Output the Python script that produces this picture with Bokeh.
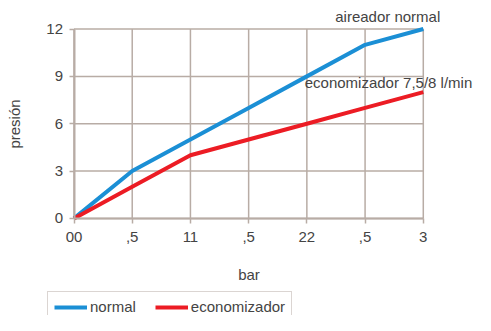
from bokeh.plotting import figure
from bokeh.models import FixedTicker, Legend, LegendItem, Label, Range1d
from bokeh.embed import file_html
from bokeh.resources import INLINE

x = [0, 0.5, 1, 1.5, 2, 2.5, 3]
normal = [0, 3, 5, 7, 9, 11, 12]
economizador = [0, 2, 4, 5, 6, 7, 8]
x_ticks = [0, 0.5, 1, 1.5, 2, 2.5, 3]
x_tick_labels = ["00", ",5", "11", ",5", "22", ",5", "3"]
y_ticks = [0, 3, 6, 9, 12]

FONT = "Liberation Sans"
FS = "15px"
TXT = "#444444"
GRID = "#b8aca5"

W, H = 475, 315
X0_PX, XU_PX = 73.5, 116.43    # x=0 position and px per unit
Y0_PX, YU_PX = 217.9, 15.78    # y=0 position (from top) and px per unit

p = figure(width=W, height=H, output_backend="svg", toolbar_location=None,
           x_range=Range1d(-X0_PX / XU_PX, (W - X0_PX) / XU_PX),
           y_range=Range1d(-(H - Y0_PX) / YU_PX, Y0_PX / YU_PX),
           min_border=0, min_border_left=0, min_border_right=0,
           min_border_top=0, min_border_bottom=0)
p.outline_line_color = None
p.background_fill_color = "white"
p.xgrid.visible = False
p.ygrid.visible = False

# grid lines limited to the data area
p.segment(x0=x_ticks, x1=x_ticks, y0=[0] * len(x_ticks), y1=[12] * len(x_ticks),
          line_color=GRID, line_width=1.5)
p.segment(x0=[0] * len(y_ticks), x1=[3] * len(y_ticks), y0=y_ticks, y1=y_ticks,
          line_color=GRID, line_width=1.5)

p.xaxis.ticker = FixedTicker(ticks=x_ticks)
p.xaxis.major_label_overrides = {t: l for t, l in zip(x_ticks, x_tick_labels)}
p.yaxis.ticker = FixedTicker(ticks=y_ticks)
p.xaxis.bounds = (0, 3)
p.yaxis.bounds = (0, 12)
p.xaxis.fixed_location = 0
p.yaxis.fixed_location = 0
for ax in (p.xaxis, p.yaxis):
    ax.axis_line_color = GRID
    ax.axis_line_width = 2
    ax.major_tick_line_color = GRID
    ax.major_tick_line_width = 1.5
    ax.major_tick_out = 5
    ax.major_tick_in = 0
    ax.minor_tick_line_color = None
    ax.major_label_text_font = FONT
    ax.major_label_text_font_size = FS
    ax.major_label_text_color = TXT
    ax.axis_label_text_font = FONT
    ax.axis_label_text_font_size = FS
    ax.axis_label_text_color = TXT
    ax.axis_label_text_font_style = "normal"
p.xaxis.axis_label = "bar"
p.yaxis.axis_label = "presión"
p.xaxis.axis_label_standoff = 20
p.yaxis.axis_label_standoff = 21
p.xaxis.major_label_standoff = 9
p.yaxis.major_label_standoff = 6

r1 = p.line(x, normal, line_color="#1b8fd5", line_width=4)
r2 = p.line(x, economizador, line_color="#ec1c24", line_width=4)

p.add_layout(Label(x=3, y=12, x_offset=17, y_offset=4, text="aireador normal",
                   text_align="right", text_baseline="bottom", text_font=FONT,
                   text_font_size=FS, text_color=TXT))
p.add_layout(Label(x=3, y=8, x_offset=49, y_offset=1, text="economizador 7,5/8 l/min",
                   text_align="right", text_baseline="bottom", text_font=FONT,
                   text_font_size=FS, text_color=TXT))

legend = Legend(items=[LegendItem(label="normal", renderers=[r1]),
                       LegendItem(label="economizador", renderers=[r2])],
                orientation="horizontal", location=(47, -7),
                label_text_font=FONT, label_text_font_size=FS, label_text_color=TXT,
                border_line_color=GRID, border_line_width=1.5,
                glyph_width=33, glyph_height=16, label_standoff=3, spacing=19,
                padding=6, margin=0)
p.add_layout(legend, "center")

open("out.html", "w").write(file_html(p, INLINE))
